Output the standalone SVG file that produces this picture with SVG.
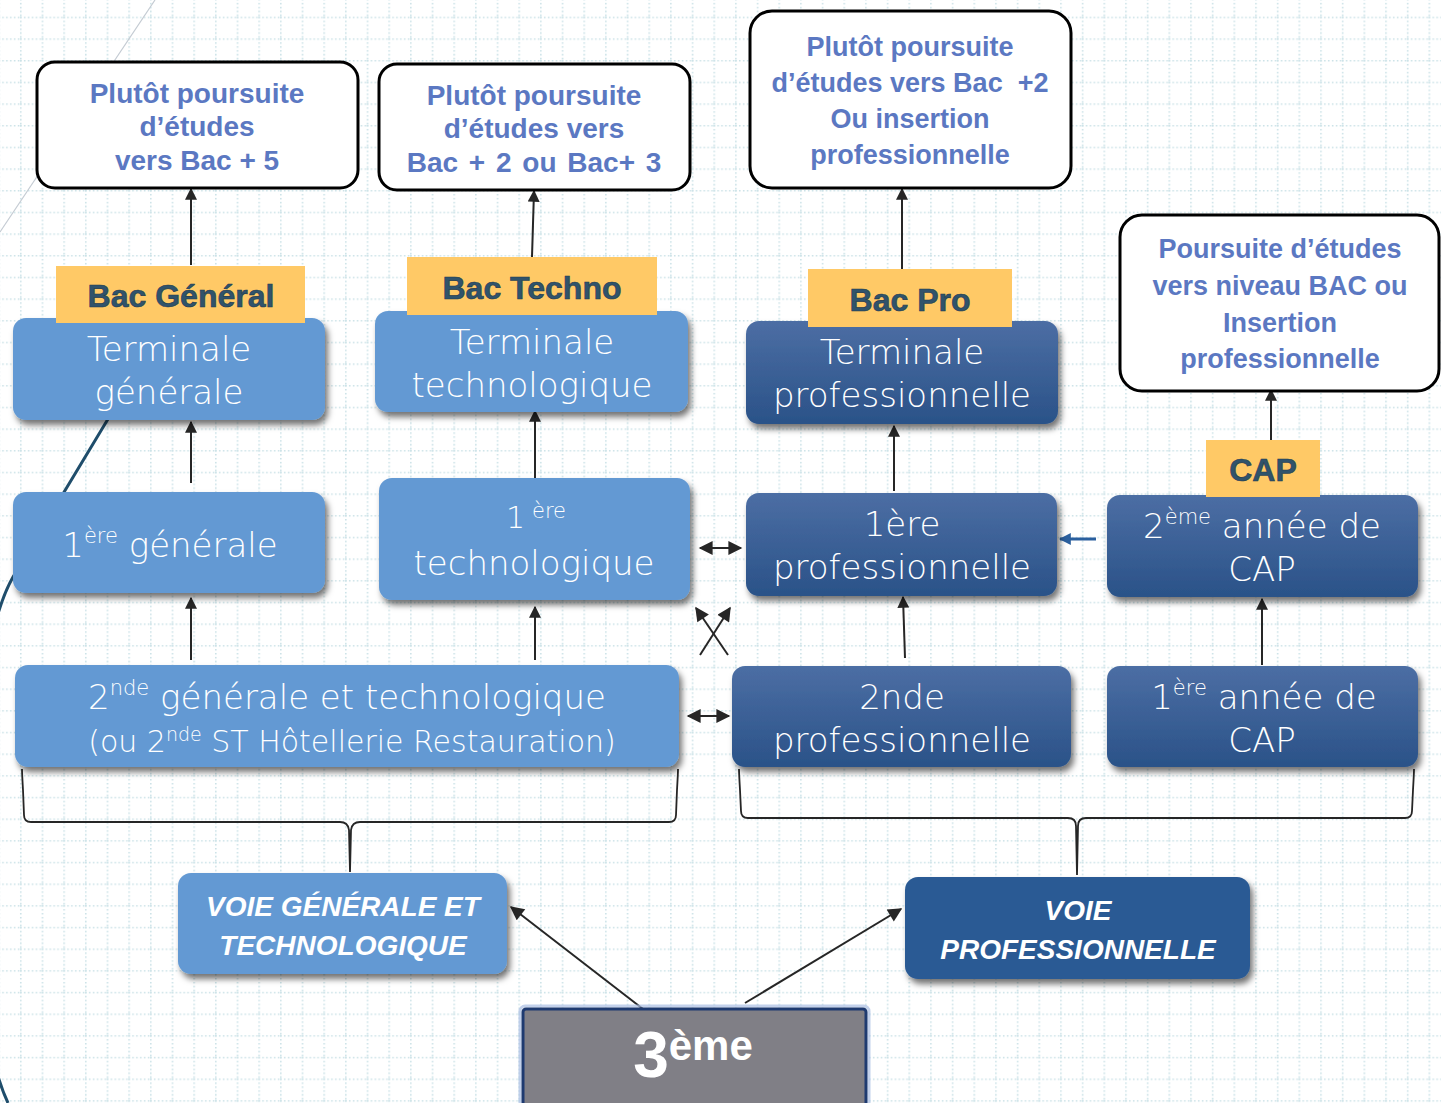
<svg xmlns="http://www.w3.org/2000/svg" width="1441" height="1103" viewBox="0 0 1441 1103">
<defs>
  <pattern id="grid" patternUnits="userSpaceOnUse" x="-1.7" y="-5" width="21.67" height="21.67">
    <line x1="0" y1="0.8" x2="21.67" y2="0.8" stroke="#cbe2e7" stroke-width="1.6" stroke-dasharray="1.6 2.3"/>
    <line x1="0.8" y1="0" x2="0.8" y2="21.67" stroke="#cbe2e7" stroke-width="1.6" stroke-dasharray="1.6 2.3"/>
  </pattern>
  <linearGradient id="dark" x1="0" y1="0" x2="0" y2="1">
    <stop offset="0" stop-color="#4c6ea4"/>
    <stop offset="1" stop-color="#2a5288"/>
  </linearGradient>
  <filter id="sh" x="-10%" y="-10%" width="125%" height="135%">
    <feDropShadow dx="3" dy="5" stdDeviation="3" flood-color="#000" flood-opacity="0.55"/>
  </filter>
  <marker id="ah" viewBox="0 0 10 10" refX="9" refY="5" markerWidth="12" markerHeight="12" markerUnits="userSpaceOnUse" orient="auto-start-reverse">
    <path d="M0,0 L10,5 L0,10 z" fill="#262626"/>
  </marker>
  <marker id="ahb" viewBox="0 0 10 10" refX="9" refY="5" markerWidth="16" markerHeight="14" markerUnits="userSpaceOnUse" orient="auto-start-reverse">
    <path d="M0,0 L10,5 L0,10 z" fill="#262626"/>
  </marker>
  <marker id="ahblue" viewBox="0 0 10 10" refX="9" refY="5" markerWidth="12" markerHeight="12" markerUnits="userSpaceOnUse" orient="auto">
    <path d="M0,0 L10,5 L0,10 z" fill="#2a5f9e"/>
  </marker>
  <style>
    .light { fill: #6399d3; }
    .darkb { fill: url(#dark); }
    .box { filter: url(#sh); }
    .t { font-family: "DejaVu Sans", "Liberation Sans", sans-serif; font-weight: 300; fill: #ffffff; text-anchor: middle; font-size: 34px; }
    .lbl { fill: #ffc966; }
    .lt { font-family: "Liberation Sans", Arial, sans-serif; font-weight: bold; fill: #30536b; text-anchor: middle; font-size: 32px; stroke: #1f3a4f; stroke-width: 0.6px; }
    .call { fill: #ffffff; stroke: #000000; stroke-width: 3; }
    .ct { font-family: "Liberation Sans", Arial, sans-serif; font-weight: bold; fill: #5b78c2; text-anchor: middle; font-size: 27px; }
    .ct28 { font-size: 28px; }
    .voie { font-family: "Liberation Sans", Arial, sans-serif; font-weight: bold; font-style: italic; fill: #ffffff; text-anchor: middle; font-size: 28px; }
    .con { stroke: #262626; stroke-width: 2; fill: none; }
    .brace { stroke: #262626; stroke-width: 1.8; fill: none; }
  </style>
</defs>

<rect width="1441" height="1103" fill="#ffffff"/>
<rect width="1441" height="1103" fill="url(#grid)"/>

<!-- decorative background lines -->
<g id="decor">
  <line x1="155" y1="0" x2="0" y2="232" stroke="#c4cbd3" stroke-width="1.2"/>
  <path d="M108,419 L13,577 C -40,670 -40,1000 8,1103" stroke="#1f4d6b" stroke-width="3" fill="none"/>
</g>

<!-- connectors -->
<g id="connectors">
  <line class="con" x1="191" y1="265" x2="191" y2="189" marker-end="url(#ah)"/>
  <line class="con" x1="532" y1="257" x2="534" y2="191" marker-end="url(#ah)"/>
  <line class="con" x1="902" y1="269" x2="902" y2="189" marker-end="url(#ah)"/>
  <line class="con" x1="1271" y1="440" x2="1271" y2="390" marker-end="url(#ah)"/>
  <line class="con" x1="191" y1="483" x2="191" y2="422" marker-end="url(#ah)"/>
  <line class="con" x1="535" y1="490" x2="535" y2="411" marker-end="url(#ah)"/>
  <line class="con" x1="894" y1="491" x2="894" y2="426" marker-end="url(#ah)"/>
  <line class="con" x1="191" y1="660" x2="191" y2="598" marker-end="url(#ah)"/>
  <line class="con" x1="535" y1="660" x2="535" y2="607" marker-end="url(#ah)"/>
  <line class="con" x1="905" y1="658" x2="903" y2="597" marker-end="url(#ah)"/>
  <line class="con" x1="1262" y1="665" x2="1262" y2="599" marker-end="url(#ah)"/>
  <line class="con" x1="700" y1="548" x2="741" y2="548" marker-start="url(#ahb)" marker-end="url(#ahb)"/>
  <line class="con" x1="688" y1="716" x2="729" y2="716" marker-start="url(#ahb)" marker-end="url(#ahb)"/>
  <line class="con" x1="728" y1="655" x2="696" y2="608" marker-end="url(#ahb)"/>
  <line class="con" x1="700" y1="655" x2="730" y2="608" marker-end="url(#ahb)"/>
  <line x1="1096" y1="539" x2="1060" y2="539" stroke="#2a5f9e" stroke-width="3" marker-end="url(#ahblue)"/>
  <line class="con" x1="643" y1="1009" x2="511" y2="907" marker-end="url(#ahb)"/>
  <line class="con" x1="745" y1="1003" x2="901" y2="909" marker-end="url(#ahb)"/>
  <path class="brace" d="M22,769 Q22,773 23,790 L24,815 Q24,822 31,822 L340,822 Q348,822 349,830 L350,872 M350,872 L351,830 Q352,822 360,822 L669,822 Q676,822 676,815 L677,790 Q678,773 678,769"/>
  <path class="brace" d="M739,769 Q739,773 740,790 L741,811 Q741,818 748,818 L1068,818 Q1076,818 1076,826 L1077,875 M1077,875 L1078,826 Q1078,818 1086,818 L1405,818 Q1412,818 1412,811 L1413,790 Q1414,773 1414,769"/>
</g>

<!-- callouts -->
<g id="callout-bac5">
  <rect class="call" x="37" y="62" width="321" height="126" rx="18"/>
  <text class="ct ct28" x="197" y="103">Plutôt poursuite</text>
  <text class="ct ct28" x="197" y="136">d’études</text>
  <text class="ct ct28" x="197" y="170">vers Bac + 5</text>
</g>
<g id="callout-bac23">
  <rect class="call" x="379" y="64" width="311" height="126" rx="18"/>
  <text class="ct ct28" x="534" y="105">Plutôt poursuite</text>
  <text class="ct ct28" x="534" y="138">d’études vers</text>
  <text class="ct ct28" x="534" y="172" word-spacing="3">Bac + 2 ou Bac+ 3</text>
</g>
<g id="callout-bac2">
  <rect class="call" x="750" y="11" width="321" height="177" rx="22"/>
  <text class="ct" x="910" y="56">Plutôt poursuite</text>
  <text class="ct" x="910" y="92" xml:space="preserve">d’études vers Bac  +2</text>
  <text class="ct" x="910" y="128">Ou insertion</text>
  <text class="ct" x="910" y="164">professionnelle</text>
</g>
<g id="callout-cap">
  <rect class="call" x="1120" y="215" width="319" height="176" rx="22"/>
  <text class="ct" x="1280" y="258">Poursuite d’études</text>
  <text class="ct" x="1280" y="295">vers niveau BAC ou</text>
  <text class="ct" x="1280" y="332">Insertion</text>
  <text class="ct" x="1280" y="368">professionnelle</text>
</g>

<!-- terminale row -->
<g id="terminale-generale">
  <rect class="light box" x="13" y="318" width="312" height="102" rx="13"/>
  <text class="t" x="169" y="361">Terminale</text>
  <text class="t" x="169" y="404">générale</text>
</g>
<g id="bac-general">
  <rect class="lbl" x="56" y="266" width="249" height="57"/>
  <text class="lt" x="181" y="307">Bac Général</text>
</g>
<g id="terminale-techno">
  <rect class="light box" x="375" y="311" width="313" height="101" rx="13"/>
  <text class="t" x="532" y="354">Terminale</text>
  <text class="t" x="532" y="397">technologique</text>
</g>
<g id="bac-techno">
  <rect class="lbl" x="407" y="257" width="250" height="58"/>
  <text class="lt" x="532" y="299">Bac Techno</text>
</g>
<g id="terminale-pro">
  <rect class="darkb box" x="746" y="321" width="312" height="103" rx="13"/>
  <text class="t" x="902" y="364">Terminale</text>
  <text class="t" x="902" y="407">professionnelle</text>
</g>
<g id="bac-pro">
  <rect class="lbl" x="808" y="269" width="204" height="58"/>
  <text class="lt" x="910" y="311">Bac Pro</text>
</g>

<!-- premiere row -->
<g id="premiere-generale">
  <rect class="light box" x="13" y="492" width="312" height="101" rx="13"/>
  <text class="t" x="170" y="557">1<tspan font-size="21" dy="-14">ère</tspan><tspan dy="14"> générale</tspan></text>
</g>
<g id="premiere-techno">
  <rect class="light box" x="379" y="478" width="311" height="122" rx="13"/>
  <text class="t" x="536" y="528" style="font-size:30px">1<tspan font-size="21" dx="7" dy="-10">ère</tspan></text>
  <text class="t" x="534" y="575">technologique</text>
</g>
<g id="premiere-pro">
  <rect class="darkb box" x="746" y="493" width="311" height="103" rx="13"/>
  <text class="t" x="902" y="536">1ère</text>
  <text class="t" x="902" y="579">professionnelle</text>
</g>
<g id="deuxieme-cap">
  <rect class="darkb box" x="1107" y="495" width="311" height="102" rx="13"/>
  <text class="t" x="1262" y="538">2<tspan font-size="21" dy="-14">ème</tspan><tspan dy="14"> année de</tspan></text>
  <text class="t" x="1262" y="581">CAP</text>
</g>
<g id="cap">
  <rect class="lbl" x="1206" y="440" width="114" height="57"/>
  <text class="lt" x="1263" y="481">CAP</text>
</g>

<!-- seconde row -->
<g id="seconde-gt">
  <rect class="light box" x="15" y="665" width="664" height="102" rx="13"/>
  <text class="t" x="347" y="709">2<tspan font-size="21" dy="-14">nde</tspan><tspan dy="14"> générale et technologique</tspan></text>
  <text class="t" x="352" y="752" style="font-size:30px">(ou 2<tspan font-size="19" dy="-11">nde</tspan><tspan dy="11"> ST Hôtellerie Restauration)</tspan></text>
</g>
<g id="seconde-pro">
  <rect class="darkb box" x="732" y="666" width="339" height="101" rx="13"/>
  <text class="t" x="902" y="709">2nde</text>
  <text class="t" x="902" y="752">professionnelle</text>
</g>
<g id="premiere-cap">
  <rect class="darkb box" x="1107" y="666" width="311" height="101" rx="13"/>
  <text class="t" x="1264" y="709">1<tspan font-size="21" dy="-14">ère</tspan><tspan dy="14"> année de</tspan></text>
  <text class="t" x="1262" y="752">CAP</text>
</g>

<!-- voies -->
<g id="voie-gt">
  <rect class="light box" x="178" y="873" width="329" height="101" rx="13"/>
  <text class="voie" x="343" y="916">VOIE GÉNÉRALE ET</text>
  <text class="voie" x="343" y="955">TECHNOLOGIQUE</text>
</g>
<g id="voie-pro">
  <rect class="box" x="905" y="877" width="345" height="102" rx="13" fill="#2b5a94"/>
  <text class="voie" x="1078" y="920">VOIE</text>
  <text class="voie" x="1078" y="959">PROFESSIONNELLE</text>
</g>

<!-- 3eme -->
<g id="troisieme">
  <rect x="520" y="1006" width="349" height="120" rx="5" fill="none" stroke="#a9bee3" stroke-width="3" opacity="0.7"/>
  <rect x="523" y="1009" width="343" height="112" rx="3" fill="#807f86" stroke="#1e3a70" stroke-width="3"/>
  <text x="693" y="1077" font-family="Liberation Sans, Arial, sans-serif" font-weight="bold" fill="#ffffff" text-anchor="middle"><tspan font-size="64">3</tspan><tspan font-size="42" dy="-17">ème</tspan></text>
</g>
</svg>
